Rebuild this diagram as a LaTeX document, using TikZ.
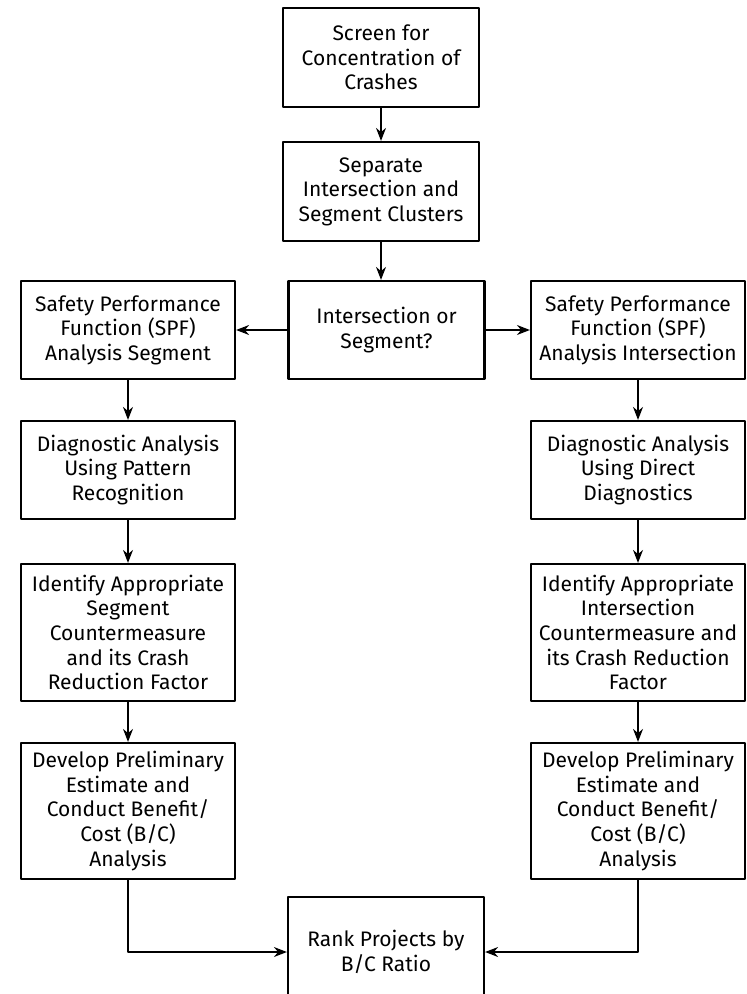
\documentclass[tikz,border=0pt]{standalone}
\usepackage{fontspec}
\setmainfont{Fira Sans}
\usetikzlibrary{arrows.meta}
\tikzset{
  box/.style={draw, line width=1.1pt, align=center, inner sep=0pt,
    minimum width=98pt, font=\fontsize{10.5}{12.3}\selectfont},
  side/.style={box, minimum width=107pt},
  link/.style={->, line width=.65pt}
}
\begin{document}
\begin{tikzpicture}[x=.5pt, y=-.5pt, line join=round, >={Stealth[length=6.5pt,width=5pt]}]
	\clip (0,0) rectangle (746,994);
	% centre column
	\node[box, minimum height=49.5pt] (screen) at (381,57.5) {Screen for\\Concentration of\\Crashes};
	\node[box, minimum height=49.5pt] (separate) at (381,191.5) {Separate\\Intersection and\\Segment Clusters};
	\node[box, minimum height=49pt] (decide) at (386.5,330) {Intersection or\\Segment?};
	% segment side
	\node[side, minimum height=49pt] (spfseg) at (128,330) {Safety Performance\\Function (SPF)\\Analysis Segment};
	\node[side, minimum height=49pt] (diagseg) at (128,470) {Diagnostic Analysis\\Using Pattern\\Recognition};
	\node[side, minimum height=68.5pt] (cmseg) at (128,632.5) {Identify Appropriate\\Segment\\Countermeasure\\and its Crash\\Reduction Factor};
	\node[side, minimum height=68pt] (bcseg) at (128,811) {Develop Preliminary\\Estimate and\\Conduct Benefit/\\Cost (B/C)\\Analysis};
	% intersection side
	\node[side, minimum height=49pt] (spfint) at (638,330) {Safety Performance\\Function (SPF)\\Analysis Intersection};
	\node[side, minimum height=49pt] (diagint) at (638,470) {Diagnostic Analysis\\Using Direct\\Diagnostics};
	\node[side, minimum height=68.5pt] (cmint) at (638,632.5) {Identify Appropriate\\Intersection\\Countermeasure and\\its Crash Reduction\\Factor};
	\node[side, minimum height=68pt] (bcint) at (638,811) {Develop Preliminary\\Estimate and\\Conduct Benefit/\\Cost (B/C)\\Analysis};
	% ranking
	\node[box, minimum height=55pt] (rank) at (386,952) {Rank Projects by\\B/C Ratio};
	\draw[link] (screen)--(separate);
	\draw[link] (separate.south)--(separate.south |- decide.north);
	\draw[link] (decide)--(spfseg);
	\draw[link] (decide)--(spfint);
	\foreach \a/\b in {spfseg/diagseg,diagseg/cmseg,cmseg/bcseg,spfint/diagint,diagint/cmint,cmint/bcint}
		\draw[link] (\a)--(\b);
	\draw[link] (bcseg.south) |- (rank.west);
	\draw[link] (bcint.south) |- (rank.east);
\end{tikzpicture}
\end{document}
